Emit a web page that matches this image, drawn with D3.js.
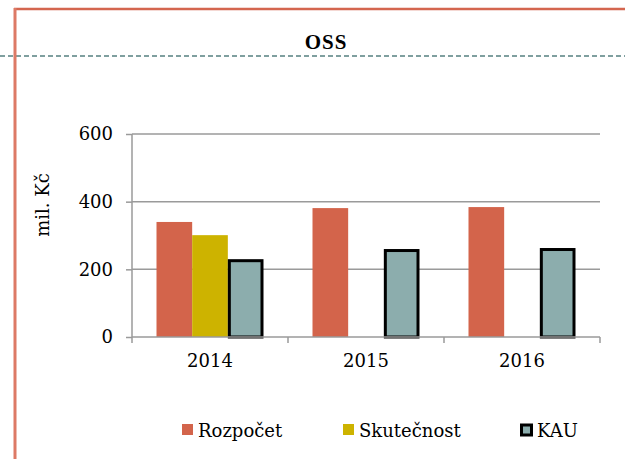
<!DOCTYPE html>
<html>
<head>
<meta charset="utf-8">
<script src="https://cdn.jsdelivr.net/npm/d3@7"></script>
<style>
  html, body { margin: 0; padding: 0; background: #ffffff; }
  svg { display: block; }
  text { font-family: Georgia, "DejaVu Serif", serif; fill: #000; }
</style>
</head>
<body>
<div id="chart"></div>
<script>
'use strict';

// ── Data ───────────────────────────────────────────────
const years     = ['2014', '2015', '2016'];
const series    = ['Rozpočet', 'Skutečnost', 'KAU'];
const rozpocet  = [340, 381, 384];
const skutecnost = [301, null, null];
const kau       = [230, 260, 263];
const yTicks    = [0, 200, 400, 600];
const colours   = ['#d3644b', '#cdb300', '#8cadad'];

const W = 625, H = 459;
const plot = { left: 132, right: 600, top: 134, bottom: 337 };

const svg = d3.select('#chart').append('svg')
    .attr('width', W)
    .attr('height', H);

// ── Frame decorations ──────────────────────────────────
svg.append('line')
    .attr('x1', 0).attr('x2', W)
    .attr('y1', 56).attr('y2', 56)
    .attr('stroke', '#7f9f9f')
    .attr('stroke-width', 2)
    .attr('stroke-dasharray', '5,3');

svg.append('line')
    .attr('x1', 14).attr('x2', W)
    .attr('y1', 9).attr('y2', 9)
    .attr('stroke', '#d4664f')
    .attr('stroke-width', 2.5);

svg.append('line')
    .attr('x1', 15).attr('x2', 15)
    .attr('y1', 8).attr('y2', H)
    .attr('stroke', '#dd7a66')
    .attr('stroke-width', 3);

// ── Scales ─────────────────────────────────────────────
const x = d3.scaleBand()
    .domain(years)
    .range([plot.left, plot.right])
    .padding(0);

const xs = d3.scaleBand()
    .domain(series)
    .range([24.5, x.bandwidth() - 24.5]);

const y = d3.scaleLinear()
    .domain([0, 600])
    .range([plot.bottom, plot.top]);

// ── Gridlines ──────────────────────────────────────────
svg.append('g')
    .selectAll('line')
    .data(yTicks.filter(d => d > 0))
    .join('line')
    .attr('x1', plot.left).attr('x2', plot.right)
    .attr('y1', d => y(d)).attr('y2', d => y(d))
    .attr('stroke', '#9a9a9a')
    .attr('stroke-width', 1.5);

// ── Bars ───────────────────────────────────────────────
const rows = years.map((yr, i) => ({
    year: yr,
    values: [rozpocet[i], skutecnost[i], kau[i]]
}));

const groups = svg.append('g')
    .selectAll('g')
    .data(rows)
    .join('g')
    .attr('transform', d => `translate(${x(d.year)},0)`);

groups.selectAll('rect')
    .data(d => d.values.map((v, j) => ({ key: series[j], idx: j, value: v })).filter(d => d.value !== null))
    .join('rect')
    .attr('x', d => xs(d.key) + (d.idx === 2 ? 1.5 : 0))
    .attr('width', d => xs.bandwidth() - (d.idx === 2 ? 3 : 0))
    .attr('y', d => y(d.value) + (d.idx === 2 ? 1.5 : 0))
    .attr('height', d => y(0) - y(d.value) - (d.idx === 2 ? 1.5 : 0))
    .attr('fill', d => colours[d.idx])
    .attr('stroke', d => d.idx === 2 ? '#000' : 'none')
    .attr('stroke-width', d => d.idx === 2 ? 3 : 0);

// ── Axes ───────────────────────────────────────────────
const yAxis = svg.append('g')
    .attr('transform', `translate(${plot.left},0)`)
    .call(d3.axisLeft(y).tickValues(yTicks).tickSize(6).tickPadding(13).tickFormat(d3.format('d')));

const xAxis = svg.append('g')
    .attr('transform', `translate(0,${plot.bottom})`)
    .call(d3.axisBottom(x).tickSize(0).tickPadding(20));

// category boundary ticks
xAxis.selectAll('line.bound')
    .data([plot.left, ...years.map(d => x(d) + x.bandwidth())])
    .join('line')
    .attr('class', 'bound')
    .attr('x1', d => d).attr('x2', d => d)
    .attr('y1', 0).attr('y2', 6)
    .attr('stroke', '#9a9a9a')
    .attr('stroke-width', 1.5);

[yAxis, xAxis].forEach(ax => {
    ax.select('.domain').attr('stroke', '#9a9a9a').attr('stroke-width', 1.5);
    ax.selectAll('.tick line').attr('stroke', '#9a9a9a').attr('stroke-width', 1.5);
    ax.selectAll('.tick text')
        .attr('font-family', 'Georgia, "DejaVu Serif", serif')
        .attr('font-size', 18)
        .attr('fill', '#000');
});
yAxis.select('.domain').attr('d', `M0,${plot.top}V${plot.bottom}`);
xAxis.select('.domain').attr('d', `M${plot.left},0H${plot.right}`);
xAxis.selectAll('.tick text').attr('dy', '0.55em');

// ── Title & axis label ─────────────────────────────────
svg.append('text')
    .attr('x', 326)
    .attr('y', 49)
    .attr('text-anchor', 'middle')
    .style('font-family', '"Liberation Serif", "Times New Roman", serif')
    .attr('font-size', 21)
    .attr('font-weight', 700)
    .attr('letter-spacing', 1)
    .text('OSS');

svg.append('text')
    .attr('transform', 'translate(42,205) rotate(-90)')
    .attr('text-anchor', 'middle')
    .attr('dominant-baseline', 'central')
    .attr('font-size', 18)
    .text('mil. Kč');

// ── Legend ─────────────────────────────────────────────
const legendX = [182, 343, 520];
const legend = svg.append('g')
    .selectAll('g')
    .data(series)
    .join('g')
    .attr('transform', (d, i) => `translate(${legendX[i]},424)`);

legend.append('rect')
    .attr('x', (d, i) => i === 2 ? 1.5 : 0)
    .attr('y', (d, i) => i === 2 ? 1 : 0)
    .attr('width', (d, i) => i === 2 ? 10 : 11)
    .attr('height', (d, i) => i === 2 ? 10 : 11)
    .attr('fill', (d, i) => colours[i])
    .attr('stroke', (d, i) => i === 2 ? '#000' : 'none')
    .attr('stroke-width', (d, i) => i === 2 ? 3 : 0);

legend.append('text')
    .attr('x', (d, i) => i === 2 ? 17 : 16)
    .attr('y', 13)
    .attr('font-size', 18)
    .text(d => d);
</script>
</body>
</html>
